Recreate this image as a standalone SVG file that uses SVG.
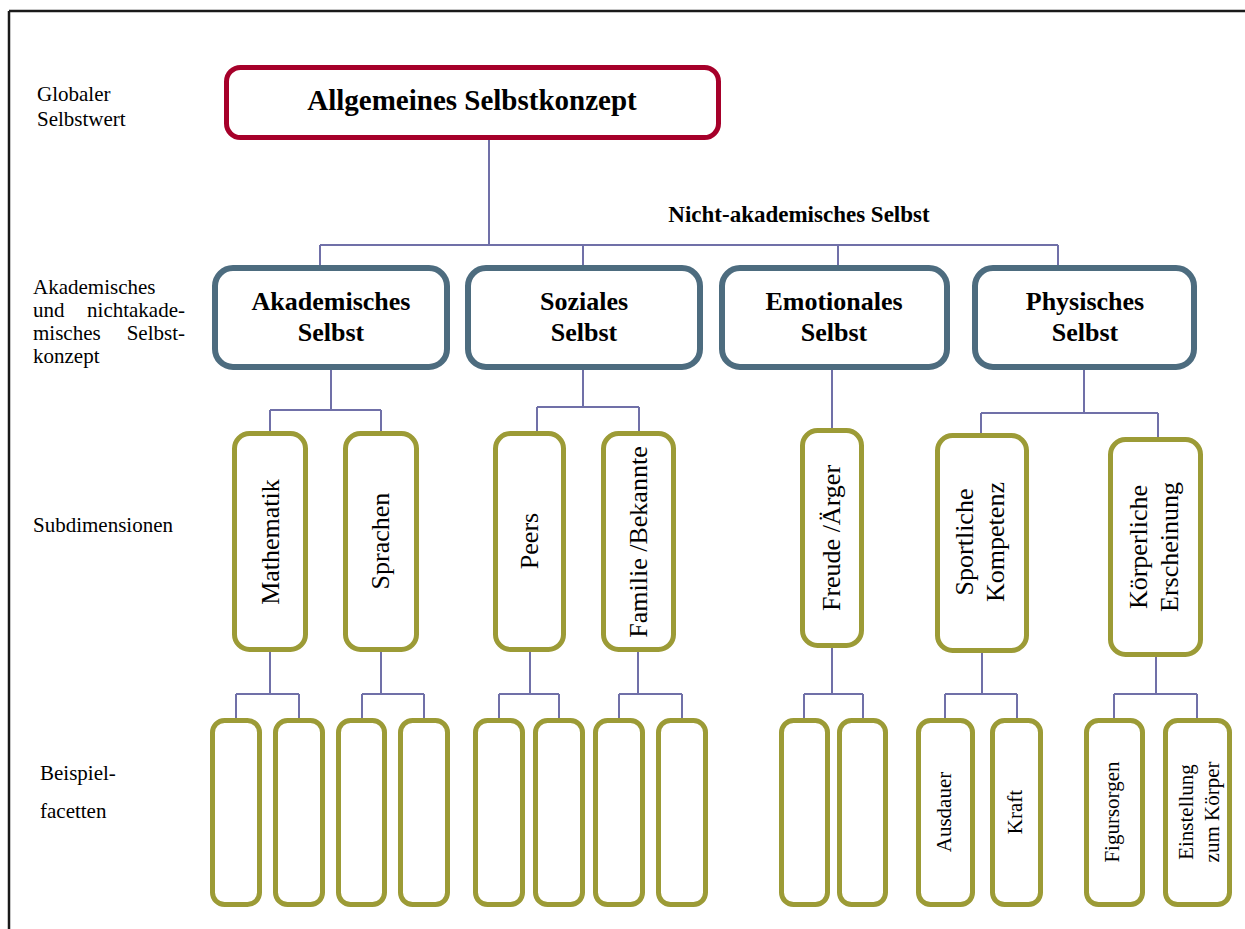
<svg xmlns="http://www.w3.org/2000/svg" width="1245" height="929" viewBox="0 0 1245 929">
<style>
text{font-family:"Liberation Serif","Times New Roman",serif;fill:#000}
.lbl{font-size:21px}
.b{font-weight:bold}
.top{fill:#fff;stroke:#A6002A;stroke-width:5}
.l2{fill:#fff;stroke:#4D6C7F;stroke-width:6}
.l3{fill:#fff;stroke:#9C9B36;stroke-width:5}
.l4{fill:#fff;stroke:#9C9B36;stroke-width:5}
.t2{font-size:26px;font-weight:bold;text-anchor:middle}
.t3{font-size:26px;text-anchor:middle}
.t4{font-size:21px;text-anchor:middle}
.con{fill:none;stroke:#7070A8;stroke-width:2}
</style>
<rect width="1245" height="929" fill="#fff"/>
<path d="M9 11 H1245 M9 11 V929" fill="none" stroke="#1a1a1a" stroke-width="2.5"/>

<g id="labels">
<text class="lbl" x="37" y="101">Globaler</text>
<text class="lbl" x="37" y="126">Selbstwert</text>
<text class="lbl" x="33" y="294">Akademisches</text>
<text class="lbl" y="317"><tspan x="33">und</tspan><tspan x="185" text-anchor="end">nichtakade-</tspan></text>
<text class="lbl" y="340"><tspan x="33">misches</tspan><tspan x="185" text-anchor="end">Selbst-</tspan></text>
<text class="lbl" x="33" y="363">konzept</text>
<text class="lbl" x="33" y="532">Subdimensionen</text>
<text class="lbl" x="40" y="780">Beispiel-</text>
<text class="lbl" x="40" y="818">facetten</text>
<text class="b" x="799" y="222" font-size="23" text-anchor="middle">Nicht-akademisches Selbst</text>
</g>

<g id="connectors" class="con">
<path d="M489 140 V245 M320 245 H1058 M320 245 V265 M583 245 V265 M838 245 V265 M1058 245 V265"/>
<path d="M331 370 V410 M270 410 H381 M270 410 V431 M381 410 V431"/>
<path d="M583 370 V407 M537 407 H639 M537 407 V431 M639 407 V431"/>
<path d="M832 370 V428"/>
<path d="M1084 370 V413 M981 413 H1158 M981 413 V433 M1158 413 V437"/>
<path d="M270 652 V694 M236 694 H299 M236 694 V718 M299 694 V718"/>
<path d="M381 652 V694 M362 694 H424 M362 694 V718 M424 694 V718"/>
<path d="M530 652 V694 M499 694 H559 M499 694 V718 M559 694 V718"/>
<path d="M638 652 V694 M619 694 H682 M619 694 V718 M682 694 V718"/>
<path d="M832 648 V694 M804 694 H863 M804 694 V718 M863 694 V718"/>
<path d="M982 653 V694 M945 694 H1017 M945 694 V718 M1017 694 V718"/>
<path d="M1156 657 V694 M1114 694 H1197 M1114 694 V718 M1197 694 V718"/>
</g>

<g id="allgemeines">
<rect class="top" x="226.5" y="67.5" width="492" height="70" rx="14"/>
<text class="b" x="472" y="110" font-size="29" text-anchor="middle">Allgemeines Selbstkonzept</text>
</g>

<g id="akademisch">
<rect class="l2" x="215" y="268" width="232" height="99" rx="18"/>
<text class="t2" x="331" y="310">Akademisches</text>
<text class="t2" x="331" y="341">Selbst</text>
</g>
<g id="sozial">
<rect class="l2" x="468" y="268" width="232" height="99" rx="18"/>
<text class="t2" x="584" y="310">Soziales</text>
<text class="t2" x="584" y="341">Selbst</text>
</g>
<g id="emotional">
<rect class="l2" x="722" y="268" width="225" height="99" rx="18"/>
<text class="t2" x="834" y="310">Emotionales</text>
<text class="t2" x="834" y="341">Selbst</text>
</g>
<g id="physisch">
<rect class="l2" x="975" y="268" width="219" height="99" rx="18"/>
<text class="t2" x="1085" y="310">Physisches</text>
<text class="t2" x="1085" y="341">Selbst</text>
</g>

<g id="mathematik">
<rect class="l3" x="234.5" y="433.5" width="71" height="216" rx="15"/>
<text class="t3" transform="translate(279 542) rotate(-90)">Mathematik</text>
</g>
<g id="sprachen">
<rect class="l3" x="345.5" y="433.5" width="71" height="216" rx="15"/>
<text class="t3" transform="translate(389 541) rotate(-90)">Sprachen</text>
</g>
<g id="peers">
<rect class="l3" x="495.5" y="433.5" width="68" height="216" rx="15"/>
<text class="t3" transform="translate(538 541) rotate(-90)">Peers</text>
</g>
<g id="familie">
<rect class="l3" x="603.5" y="433.5" width="70" height="216" rx="15"/>
<text class="t3" transform="translate(647 542) rotate(-90)">Familie /Bekannte</text>
</g>
<g id="freude">
<rect class="l3" x="802.5" y="430.5" width="59" height="215" rx="15"/>
<text class="t3" transform="translate(840 538) rotate(-90)">Freude /Ärger</text>
</g>
<g id="sport">
<rect class="l3" x="937.5" y="435.5" width="89" height="215" rx="15"/>
<text class="t3" transform="translate(973 542) rotate(-90)"><tspan x="0" y="0">Sportliche</tspan><tspan x="0" y="31">Kompetenz</tspan></text>
</g>
<g id="koerper">
<rect class="l3" x="1110.5" y="439.5" width="90" height="215" rx="15"/>
<text class="t3" transform="translate(1147 547) rotate(-90)"><tspan x="0" y="0">Körperliche</tspan><tspan x="0" y="31">Erscheinung</tspan></text>
</g>

<g id="facetten">
<rect class="l4" x="212.5" y="720.5" width="47" height="184" rx="12"/>
<rect class="l4" x="275.5" y="720.5" width="47" height="184" rx="12"/>
<rect class="l4" x="338.5" y="720.5" width="46" height="184" rx="12"/>
<rect class="l4" x="400.5" y="720.5" width="47" height="184" rx="12"/>
<rect class="l4" x="475.5" y="720.5" width="47" height="184" rx="12"/>
<rect class="l4" x="535.5" y="720.5" width="47" height="184" rx="12"/>
<rect class="l4" x="595.5" y="720.5" width="47" height="184" rx="12"/>
<rect class="l4" x="658.5" y="720.5" width="47" height="184" rx="12"/>
<rect class="l4" x="781.5" y="720.5" width="46" height="184" rx="12"/>
<rect class="l4" x="839.5" y="720.5" width="46" height="184" rx="12"/>
</g>
<g id="ausdauer">
<rect class="l4" x="918.5" y="720.5" width="54" height="184" rx="12"/>
<text class="t4" transform="translate(951 812) rotate(-90)">Ausdauer</text>
</g>
<g id="kraft">
<rect class="l4" x="992.5" y="720.5" width="48" height="184" rx="12"/>
<text class="t4" transform="translate(1022 812) rotate(-90)">Kraft</text>
</g>
<g id="figursorgen">
<rect class="l4" x="1086.5" y="720.5" width="56" height="184" rx="12"/>
<text class="t4" transform="translate(1119 812) rotate(-90)">Figursorgen</text>
</g>
<g id="einstellung">
<rect class="l4" x="1165.5" y="720.5" width="64" height="184" rx="12"/>
<text class="t4" transform="translate(1193 812) rotate(-90)"><tspan x="0" y="0">Einstellung</tspan><tspan x="0" y="26">zum Körper</tspan></text>
</g>
</svg>
